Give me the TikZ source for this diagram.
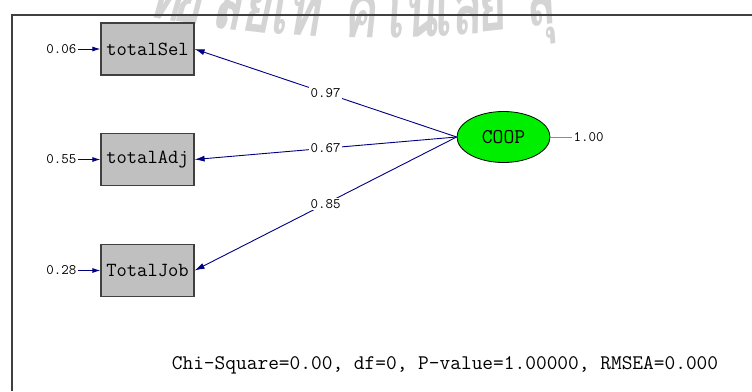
\documentclass[tikz,border=0pt]{standalone}
\usepackage{fontspec}
\newfontfamily\thaifont[Script=Thai]{Loma}
\usepackage{xcolor}
\usetikzlibrary{arrows.meta,positioning,shapes}
\definecolor{navy}{RGB}{0,0,128}
\definecolor{boxgray}{RGB}{192,192,192}
\definecolor{coopgreen}{RGB}{0,238,0}

\begin{document}
\begin{tikzpicture}[x=1pt, y=-1pt,
    obs/.style={draw=black!75, fill=boxgray, line width=1.2pt, minimum width=93pt, minimum height=52pt, font=\ttfamily\fontsize{20}{20}\selectfont},
    lat/.style={draw=black, fill=coopgreen, ellipse, line width=0.8pt, minimum width=93pt, minimum height=51pt, font=\ttfamily\fontsize{21}{21}\selectfont},
    num/.style={font=\ttfamily\fontsize{14.5}{14.5}\selectfont, inner sep=1.5pt},
    load/.style={draw=navy, line width=0.9pt, -{Latex[length=10pt,width=6pt]}},
    err/.style={draw=navy, line width=0.9pt, -{Latex[length=8pt,width=5pt]}}]
    \useasboundingbox (0,0) rectangle (752,391);
    % watermark
    \begin{scope}
        \clip (0,0) rectangle (752,391);
        \foreach \g/\x [count=\i] in {ท/163, ยา/200, ลัย/240, เท/294, ค/360, โน/408, โล/454, ยี/493, สุ/543} {
            \pgfmathsetmacro\yy{38-((\x-370)/47.5)^2}
            \pgfmathsetmacro\aa{(\x-370)*0.0508}
            \node[text=black!17, font=\thaifont\bfseries\fontsize{78}{78}\selectfont, rotate=\aa, xscale=0.64, xslant=0.15, anchor=base, inner sep=0pt] (wm\i) at (\x,\yy) {\g};
        }
    \end{scope}
    \draw[black!75, line width=1.5pt] (12,391) -- (12,15) -- (752,15);
    % observed and latent variables
    \node[obs] (sel) at (147.5,49) {totalSel};
    \node[obs] (adj) at (147.5,159.5) {totalAdj};
    \node[obs] (job) at (147.5,270.5) {TotalJob};
    \node[lat] (coop) at (503.5,137) {COOP};
    % error variances
    \node[num, anchor=east] (e1) at (78,49) {0.06};
    \node[num, anchor=east] (e2) at (78,159.5) {0.55};
    \node[num, anchor=east] (e3) at (78,270.5) {0.28};
    \draw[err] (e1) -- (sel);
    \draw[err] (e2) -- (adj);
    \draw[err] (e3) -- (job);
    \node[num, anchor=west] (v) at (572,137) {1.00};
    \draw[black!45, line width=0.8pt] (coop) -- (v);
    % loadings
    \draw[load] (coop.west) -- node[num, fill=white] {0.97} (sel.east);
    \draw[load] (coop.west) -- node[num, fill=white] {0.67} (adj.east);
    \draw[load] (coop.west) -- node[num, fill=white] {0.85} (job.east);
    \node[font=\ttfamily\fontsize{20.8}{20.8}\selectfont] (fit) at (445,365) {Chi-Square=0.00, df=0, P-value=1.00000, RMSEA=0.000};
\end{tikzpicture}
\end{document}
